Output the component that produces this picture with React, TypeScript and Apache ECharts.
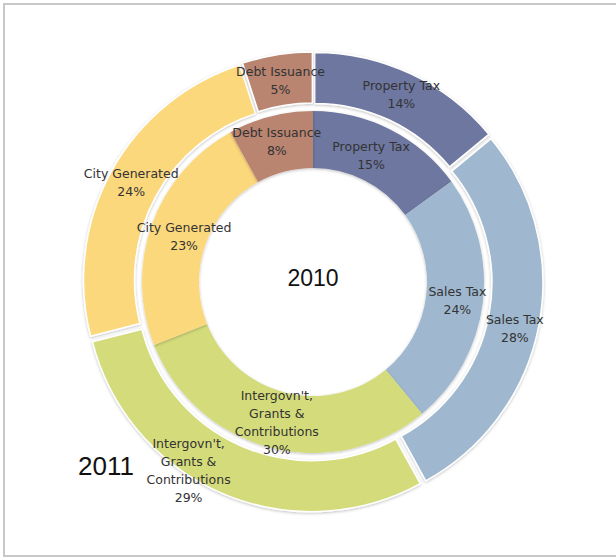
import React, { useEffect, useRef } from "react";
import * as echarts from "echarts";

const categories = [
  "Property Tax",
  "Sales Tax",
  "Intergovn't,\nGrants &\nContributions",
  "City Generated",
  "Debt Issuance",
];
const values2010 = [15, 24, 30, 23, 8];
const values2011 = [14, 28, 29, 24, 5];
const colors = ["#6e77a0", "#9fb8cf", "#d3db7a", "#fcd87c", "#b98470"];
const innerTitle = "2010";
const outerTitle = "2011";

export default function App() {
  const ref = useRef<HTMLDivElement>(null);
  useEffect(() => {
    if (!ref.current) return;
    const chart = echarts.init(ref.current, undefined, { renderer: "svg" });
    const font = "'DejaVu Sans', Verdana, sans-serif";
    const labelBase = {
      show: true,
      position: "inside" as const,
      formatter: "{b}\n{d}%",
      color: "#333",
      fontSize: 12.5,
      lineHeight: 18,
      fontFamily: font,
    };
    chart.setOption({
      animation: false,
      color: colors,
      graphic: [
        {
          type: "rect",
          shape: { x: 4, y: 4, width: 640, height: 552 },
          style: { fill: "none", stroke: "#c8c8c8", lineWidth: 2 },
          silent: true,
        },
        {
          type: "text",
          x: 313,
          y: 278,
          style: {
            text: innerTitle,
            fontSize: 23,
            fontFamily: "'Liberation Sans', sans-serif",
            fill: "#111",
            align: "center",
            verticalAlign: "middle",
          },
        },
        {
          type: "text",
          x: 106,
          y: 466,
          style: {
            text: outerTitle,
            fontSize: 26,
            fontFamily: "'Liberation Sans', sans-serif",
            fill: "#111",
            align: "center",
            verticalAlign: "middle",
          },
        },
      ],
      series: [
        {
          type: "pie",
          name: "2011",
          center: [313, 282],
          radius: [175, 226],
          startAngle: 90,
          clockwise: true,
          selectedMode: "multiple",
          selectedOffset: 4,
          emphasis: { disabled: true },
          itemStyle: {
            borderColor: "#ffffff",
            borderWidth: 1.5,
            shadowColor: "rgba(0,0,0,0.25)",
            shadowBlur: 3,
            shadowOffsetY: 1,
          },
          label: labelBase,
          labelLine: { show: false },
          labelLayout: (p: any) => {
            if (p.dataIndex === 2) return { dx: -42, dy: -2 };
            if (p.dataIndex === 4) return { dy: 3 };
            if (p.dataIndex === 1) return { dx: -2, dy: 8 };
            return {};
          },
          data: categories.map((name, i) => ({
            name,
            value: values2011[i],
            selected: true,
          })),
          z: 2,
        },
        {
          type: "pie",
          name: "2010",
          center: [313, 282],
          radius: [114, 171],
          startAngle: 90,
          clockwise: true,
          emphasis: { disabled: true },
          itemStyle: {
            borderWidth: 0,
            shadowColor: "rgba(0,0,0,0.25)",
            shadowBlur: 3,
            shadowOffsetY: 1,
          },
          label: labelBase,
          labelLine: { show: false },
          labelLayout: (p: any) => {
            if (p.dataIndex === 3) return { dx: 8, dy: 4 };
            if (p.dataIndex === 0) return { dx: -8, dy: 3 };
            return {};
          },
          data: categories.map((name, i) => ({
            name,
            value: values2010[i],
          })),
          z: 3,
        },
      ],
    });
    return () => chart.dispose();
  }, []);
  return (
    <div
      ref={ref}
      style={{ position: "fixed", left: 0, top: 0, width: 616, height: 559, background: "#fff" }}
    />
  );
}
